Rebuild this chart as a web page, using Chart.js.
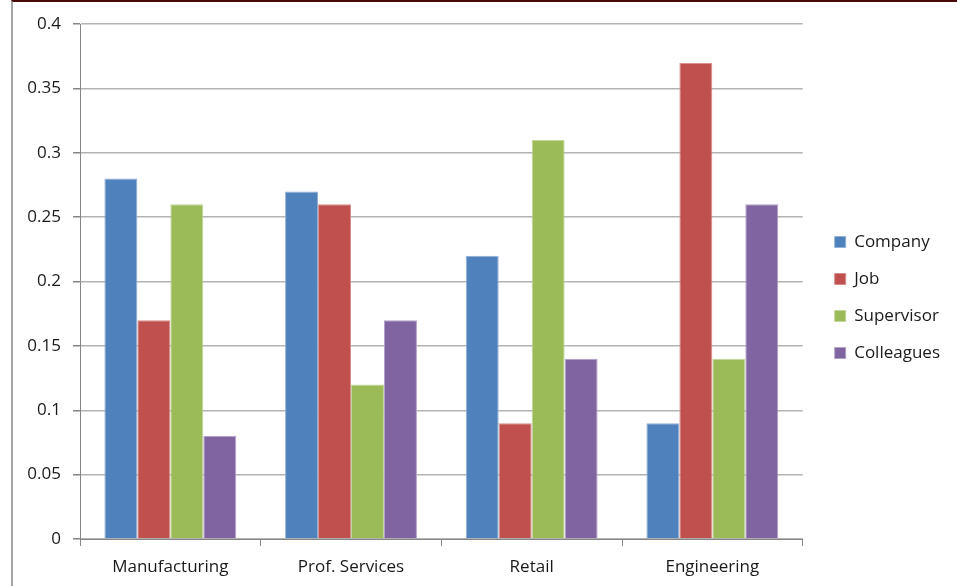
<!DOCTYPE html>
<html>
<head>
<meta charset="utf-8">
<script src="https://cdn.jsdelivr.net/npm/chart.js@4"></script>
<style>
    body { margin: 0; background: #fff; }
    #wrap { position: relative; width: 957px; height: 586px; }
    #frame {
        position: absolute; left: 11px; top: 0; right: 0; bottom: 0;
        border-left: 2px solid #a6a6a6;
        border-top: 2px solid #4a0808;
        pointer-events: none;
    }
</style>
</head>
<body>
<div id="wrap">
    <canvas id="grafico" width="957" height="586"></canvas>
    <div id="frame"></div>
</div>
<script>
const categorias = ["Manufacturing", "Prof. Services", "Retail", "Engineering"];
const company = [0.28, 0.27, 0.22, 0.09];
const job = [0.17, 0.26, 0.09, 0.37];
const supervisor = [0.26, 0.12, 0.31, 0.14];
const colleagues = [0.08, 0.17, 0.14, 0.26];
const yTicks = [0, 0.05, 0.1, 0.15, 0.2, 0.25, 0.3, 0.35, 0.4];

const fuente = "'Open Sans', 'Liberation Sans', sans-serif";

function serie(label, data, color, borde) {
    return {
        label: label,
        data: data,
        backgroundColor: color,
        borderColor: borde,
        borderWidth: 1,
        categoryPercentage: 0.73,
        barPercentage: 1
    };
}

const ctx = document.getElementById("grafico").getContext("2d");
const myChart = new Chart(ctx, {
    type: "bar",
    data: {
        labels: categorias,
        datasets: [
            serie("Company", company, "#4f81bd", "#93b1d6"),
            serie("Job", job, "#c0504d", "#d68d8b"),
            serie("Supervisor", supervisor, "#9bbb59", "#c3d69c"),
            serie("Colleagues", colleagues, "#8064a2", "#b3a2c8")
        ]
    },
    options: {
        responsive: false,
        animation: false,
        layout: {
            padding: { top: 9, bottom: 0, left: 0, right: 7 }
        },
        plugins: {
            // titulo vacio: solo empuja el area del grafico hacia abajo
            title: {
                display: true,
                text: " ",
                font: { size: 10, lineHeight: 1 },
                padding: { top: 0, bottom: 5 }
            },
            legend: {
                position: "right",
                labels: {
                    boxWidth: 11,
                    boxHeight: 11,
                    padding: 20,
                    color: "#1a1a1a",
                    font: { family: fuente, size: 17 }
                }
            },
            tooltip: { enabled: false }
        },
        scales: {
            x: {
                grid: {
                    drawOnChartArea: false,
                    tickLength: 7,
                    tickColor: "#868686"
                },
                border: { color: "#868686" },
                ticks: {
                    padding: 11,
                    color: "#1a1a1a",
                    font: { family: fuente, size: 17 }
                },
                afterFit: function(scale) { scale.height = 47; }
            },
            y: {
                min: 0,
                max: 0.4,
                afterBuildTicks: function(scale) {
                    scale.ticks = yTicks.map(v => ({ value: v }));
                },
                grid: {
                    color: "#b3b3b3",
                    lineWidth: 1.5,
                    tickLength: 7,
                    tickColor: "#868686"
                },
                border: { color: "#868686" },
                ticks: {
                    padding: 12,
                    color: "#1a1a1a",
                    font: { family: fuente, size: 17 },
                    callback: function(value) {
                        return String(parseFloat(value.toFixed(2)));
                    }
                },
                afterFit: function(scale) { scale.width = 80; }
            },
            hueco: {
                type: "linear",
                position: "right",
                grid: { display: false },
                border: { display: false },
                ticks: { display: false },
                afterFit: function(scale) { scale.width = 12; }
            }
        }
    }
});
</script>
</body>
</html>
